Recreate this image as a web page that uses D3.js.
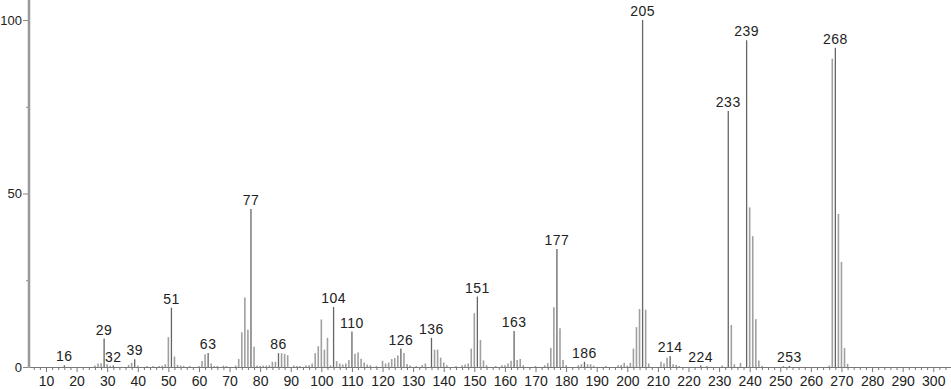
<!DOCTYPE html>
<html>
<head>
<script src="https://d3js.org/d3.v7.min.js"></script>
<style>
  body { margin: 0; background: #fff; }
  text { font-family: "Liberation Sans", Arial, sans-serif; }
</style>
</head>
<body>
<svg class="target"></svg>
<script>

width = 951
height = 389

// m/z and relative intensity
mz = [16, 26, 27, 28, 29, 30, 31, 32, 37, 38, 39, 40, 43, 45, 47, 48, 49, 50, 51, 52,
      53, 54, 55, 57, 60, 61, 62, 63, 64, 65, 66, 68, 69, 72, 73, 74, 75, 76, 77, 78,
      79, 80, 81, 82, 83, 84, 85, 86, 87, 88, 89, 91, 92, 93, 95, 96, 97, 98, 99, 100,
      101, 102, 103, 104, 105, 106, 107, 108, 109, 110, 111, 112, 113, 114, 115, 116, 118, 120, 121, 122,
      123, 124, 125, 126, 127, 128, 129, 131, 133, 134, 136, 137, 138, 139, 140, 141, 144, 146, 147, 148,
      149, 150, 151, 152, 153, 154, 157, 159, 160, 161, 162, 163, 164, 165, 166, 170, 173, 174, 175, 176,
      177, 178, 179, 180, 184, 185, 186, 187, 188, 189, 193, 197, 198, 199, 200, 201, 202, 203, 204, 205,
      206, 207, 211, 212, 213, 214, 215, 216, 217, 224, 226, 231, 233, 234, 235, 237, 239, 240, 241, 242,
      243, 244, 251, 253, 266, 267, 268, 269, 270, 271, 272]

intensity = [0.5, 0.4, 1.0, 1.1, 8.2, 0.8, 0.3, 0.4, 0.6, 1.2, 2.2, 0.4, 0.3, 0.3, 0.3, 0.4, 0.8, 8.6, 17.1, 3.0,
      0.6, 0.4, 0.3, 0.3, 0.3, 1.7, 3.7, 4.0, 1.0, 0.3, 0.3, 0.4, 0.3, 0.4, 2.3, 10.0, 20.0, 10.7, 45.5, 5.8,
      0.4, 0.3, 0.4, 0.4, 0.5, 1.5, 1.5, 4.0, 4.0, 3.8, 3.4, 0.4, 0.3, 0.3, 0.4, 0.5, 1.0, 4.0, 6.0, 13.7,
      5.0, 8.4, 0.5, 17.3, 1.7, 1.0, 0.7, 1.0, 2.0, 10.2, 3.8, 4.2, 2.4, 1.3, 0.7, 0.5, 0.3, 1.8, 1.0, 1.3,
      2.3, 2.6, 3.3, 5.3, 4.0, 0.9, 0.4, 0.3, 0.6, 1.0, 8.4, 5.0, 5.0, 2.7, 1.3, 0.5, 0.3, 0.5, 0.7, 1.0,
      5.3, 15.5, 20.3, 7.8, 1.9, 0.5, 0.3, 0.5, 0.5, 1.0, 1.8, 10.4, 2.0, 2.3, 0.5, 0.3, 0.5, 1.1, 5.5, 17.2,
      34.0, 11.2, 2.0, 0.5, 0.5, 0.8, 1.5, 0.8, 0.8, 0.4, 0.3, 0.5, 0.6, 1.2, 0.4, 1.2, 5.3, 11.5, 16.7, 100,
      16.5, 1.0, 1.5, 1.0, 2.7, 3.2, 0.8, 0.6, 0.3, 0.4, 0.3, 0.4, 73.8, 12.1, 0.8, 1.2, 94.2, 46.0, 37.7, 13.8,
      1.9, 0.3, 0.3, 0.3, 0.4, 88.8, 92.0, 44.1, 30.3, 5.5, 0.9]

// peaks that carry a label
labeled = [16, 29, 32, 39, 51, 63, 77, 86, 104, 110, 126, 136, 151, 163, 177, 186,
           205, 214, 224, 233, 239, 253, 268]

xTicks = d3.range(10, 301, 10)
xMinor = d3.range(6, 306, 2).filter(v => v % 10 != 0)
yTicks = [0, 50, 100]
yMinor = [25, 75]

data = mz.map((m, i) => ({ mz: m, v: intensity[i], lab: labeled.includes(m) }))

svg = d3.select('.target')
      .attr('width', width)
      .attr('height', height)

x = d3.scaleLinear().domain([4.45, 305.8]).range([29, 951])
y = d3.scaleLinear().domain([0, 100]).range([367, 20])

// sticks (unlabelled ones first, labelled darker on top)
svg.append('g')
  .selectAll('line')
  .data(data.slice().sort((a, b) => a.lab - b.lab))
  .join('line')
    .attr('x1', d => x(d.mz))
    .attr('x2', d => x(d.mz))
    .attr('y1', y(0))
    .attr('y2', d => y(d.v))
    .attr('stroke', d => d.lab ? '#666' : '#a0a0a0')
    .attr('stroke-width', d => d.lab ? 1.3 : 1.6)

// peak labels
svg.append('g')
  .selectAll('text')
  .data(data.filter(d => d.lab))
  .join('text')
    .attr('x', d => x(d.mz))
    .attr('y', d => y(d.v) - 4)
    .attr('text-anchor', 'middle')
    .attr('font-size', 14)
    .attr('fill', '#222')
    .attr('letter-spacing', 0.5)
    .text(d => d.mz)

// x axis: minor then major ticks
gxm = svg.append('g')
  .attr('transform', `translate(0,${y(0)})`)
  .call(d3.axisBottom(x).tickValues(xMinor).tickSize(3).tickFormat(''))
gxm.select('.domain').remove()
gxm.selectAll('line').attr('stroke', '#777')

gx = svg.append('g')
  .attr('transform', `translate(0,${y(0)})`)
  .call(d3.axisBottom(x).tickValues(xTicks).tickSize(5).tickSizeOuter(0).tickPadding(4))
gx.select('.domain').attr('stroke', '#777')
gx.selectAll('line').attr('stroke', '#777')
gx.selectAll('text')
  .attr('font-size', 14)
  .attr('font-family', '"Liberation Sans", Arial, sans-serif')
  .attr('fill', '#222')

// y axis
gym = svg.append('g')
  .attr('transform', `translate(29,0)`)
  .call(d3.axisLeft(y).tickValues(yMinor).tickSize(3).tickFormat(''))
gym.select('.domain').remove()
gym.selectAll('line').attr('stroke', '#888')

gy = svg.append('g')
  .attr('transform', `translate(29,0)`)
  .call(d3.axisLeft(y).tickValues(yTicks).tickSize(6).tickPadding(1))
gy.select('.domain').remove()
gy.selectAll('line').attr('stroke', '#888')
gy.selectAll('text')
  .attr('font-size', 13)
  .attr('font-family', '"Liberation Sans", Arial, sans-serif')
  .attr('fill', '#222')

svg.append('line')
  .attr('x1', 29).attr('x2', 29)
  .attr('y1', 0).attr('y2', y(0) + 0.5)
  .attr('stroke', '#999')
  .attr('stroke-width', 2.5)

</script>
</body>
</html>
